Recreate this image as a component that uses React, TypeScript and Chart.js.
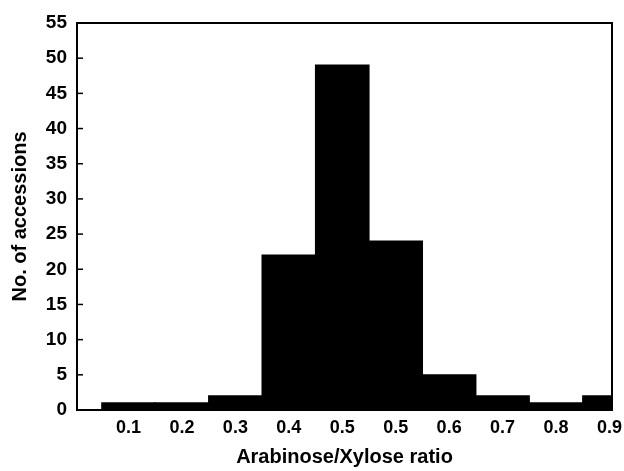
import React, { useEffect, useRef } from "react";
import { Chart, registerables } from "chart.js";

Chart.register(...registerables);

const xLabels = ["0.1", "0.2", "0.3", "0.4", "0.5", "0.5", "0.6", "0.7", "0.8", "0.9"];
const counts = [1, 1, 2, 22, 49, 24, 5, 2, 1, 2];
const yTicks = [0, 5, 10, 15, 20, 25, 30, 35, 40, 45, 50, 55];

const FONT = "'Liberation Sans', Arial, Helvetica, sans-serif";

const boxPlugin = {
  id: "boxAndTicks",
  afterDraw(chart: any) {
    const { ctx, chartArea } = chart;
    const y = chart.scales.y;
    ctx.save();
    ctx.strokeStyle = "#000";
    ctx.lineWidth = 2;
    ctx.beginPath();
    ctx.moveTo(chartArea.left, chartArea.top);
    ctx.lineTo(chartArea.right, chartArea.top);
    ctx.lineTo(chartArea.right, chartArea.bottom);
    ctx.stroke();
    ctx.lineWidth = 1.5;
    for (const t of yTicks) {
      const py = y.getPixelForValue(t);
      ctx.beginPath();
      ctx.moveTo(chartArea.left, py);
      ctx.lineTo(chartArea.left + 6, py);
      ctx.stroke();
    }
    ctx.restore();
  },
};

export default function App() {
  const ref = useRef<HTMLCanvasElement | null>(null);
  useEffect(() => {
    if (!ref.current) return;
    const chart = new Chart(ref.current, {
      type: "bar",
      data: {
        datasets: [
          {
            data: counts.map((v, i) => ({ x: i, y: v })),
            backgroundColor: "#000",
            borderWidth: 0,
            barPercentage: 1,
            categoryPercentage: 1,
            inflateAmount: 0.6,
            clip: 0,
          } as any,
        ],
      },
      options: {
        animation: false,
        responsive: false,
        maintainAspectRatio: false,
        layout: { padding: { top: 23, right: 12, left: 0, bottom: 0 } },
        plugins: { legend: { display: false }, tooltip: { enabled: false } },
        scales: {
          x: {
            type: "linear",
            offset: false,
            min: -0.964,
            max: 9.048,
            afterBuildTicks: (scale: any) => {
              scale.ticks = xLabels.map((_, i) => ({ value: i }));
            },
            afterFit: (scale: any) => {
              scale.height = 61;
              scale.paddingLeft = 0;
              scale.paddingRight = 0;
            },
            grid: { display: false, drawTicks: false, offset: false },
            border: { display: true, color: "#000", width: 2 },
            ticks: {
              autoSkip: false,
              maxRotation: 0,
              padding: 7,
              color: "#000",
              font: { family: FONT, size: 18, weight: "bold", lineHeight: 1.2 },
              callback: (_v: any, idx: number) => xLabels[idx],
            },
            title: {
              display: true,
              text: "Arabinose/Xylose ratio",
              color: "#000",
              padding: { top: 0, bottom: 2 },
              font: { family: FONT, size: 20, weight: "bold", lineHeight: 1.2 },
            },
          },
          y: {
            min: 0,
            max: 55,
            afterBuildTicks: (scale: any) => {
              scale.ticks = yTicks.map((v) => ({ value: v }));
            },
            afterFit: (scale: any) => {
              scale.width = 77;
              scale.paddingTop = 0;
              scale.paddingBottom = 0;
            },
            grid: { display: false, drawTicks: false },
            border: { display: true, color: "#000", width: 2 },
            ticks: {
              padding: 10,
              color: "#000",
              font: { family: FONT, size: 19, weight: "bold", lineHeight: 1.2 },
            },
            title: {
              display: true,
              text: "No. of accessions",
              color: "#000",
              padding: { top: 8, bottom: 0 },
              font: { family: FONT, size: 20, weight: "bold", lineHeight: 1.2 },
            },
          },
        },
      } as any,
      plugins: [boxPlugin],
    });
    return () => chart.destroy();
  }, []);
  return (
    <div style={{ position: "fixed", left: 0, top: 0, width: 624, height: 471, background: "#fff" }}>
      <canvas ref={ref} width={624} height={471} style={{ width: 624, height: 471 }} />
    </div>
  );
}
